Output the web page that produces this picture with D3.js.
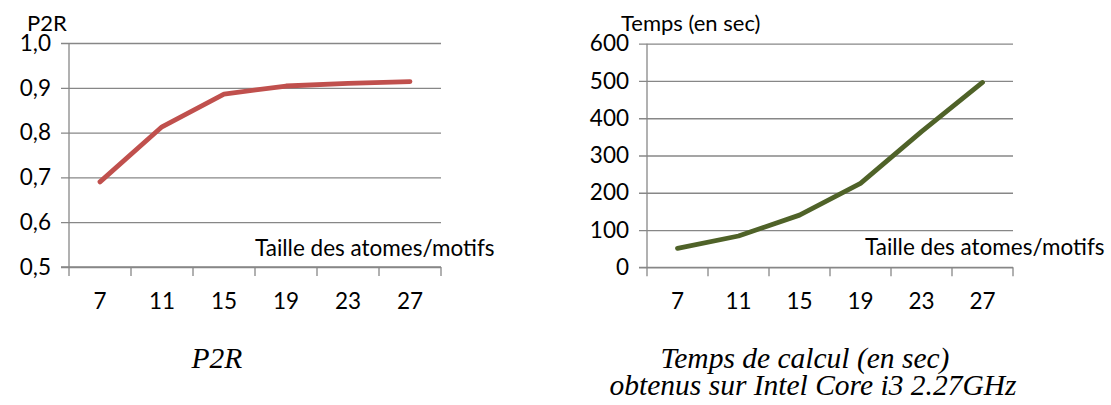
<!DOCTYPE html>
<html>
<head>
<meta charset="utf-8">
<script src="https://cdn.jsdelivr.net/npm/d3@7"></script>
<style>
  body { margin: 0; background: #fff; }
  svg text { font-family: Lato, "Open Sans", sans-serif; fill: #000; }
  .caption { font-family: "Liberation Serif", "Times New Roman", serif; font-style: italic; }
</style>
</head>
<body>
<div id="chart"></div>
<script>
// categories (taille des atomes/motifs)
var categories = ["7", "11", "15", "19", "23", "27"];
// P2R values
var p2rValues = [0.690, 0.813, 0.886, 0.904, 0.910, 0.914];
var p2rTicks = [0.5, 0.6, 0.7, 0.8, 0.9, 1.0];
// computing time in seconds, right chart
var tempsValues = [51, 84, 140, 225, 364, 496];
var tempsTicks = [0, 100, 200, 300, 400, 500, 600];

var svg = d3.select("#chart")
  .append("svg")
  .attr("width", 1111)
  .attr("height", 405);

var gridColor = "#878787";
var fontSize = "22.5px";

function lineChart(opts) {
  var width = opts.right - opts.left,
      height = opts.bottom - opts.top;

  var g = svg.append("g")
    .attr("transform", "translate(" + opts.left + "," + opts.top + ")");

  var x = d3.scaleBand()
    .domain(categories)
    .range([0, width])
    .padding(0);

  var y = d3.scaleLinear()
    .domain(opts.domain)
    .range([height, 0]);

  // gridlines + y labels
  var yAxis = g.append("g")
    .call(d3.axisLeft(y)
      .tickValues(opts.ticks)
      .tickSize(-width)
      .tickPadding(18)
      .tickFormat(opts.format));
  yAxis.select(".domain").remove();
  yAxis.selectAll("line")
    .attr("x1", -8)
    .attr("x2", width)
    .attr("stroke", gridColor)
    .attr("stroke-width", 1.3);
  yAxis.selectAll("text")
    .attr("font-size", fontSize)
    .attr("font-family", "Lato, sans-serif");

  // vertical axis line
  g.append("line")
    .attr("x1", 0).attr("x2", 0)
    .attr("y1", 0).attr("y2", height)
    .attr("stroke", gridColor)
    .attr("stroke-width", 1.3);

  // x axis labels (centered in bands)
  var xAxis = g.append("g")
    .attr("transform", "translate(0," + height + ")")
    .call(d3.axisBottom(x).tickSize(0).tickPadding(26));
  xAxis.select(".domain").remove();
  xAxis.selectAll("text")
    .attr("font-size", fontSize)
    .attr("font-family", "Lato, sans-serif");

  // x ticks at band boundaries
  var edges = categories.map(function(c) { return x(c); });
  edges.push(width);
  g.selectAll(".xtick")
    .data(edges)
    .enter()
    .append("line")
    .attr("x1", function(d) { return d; })
    .attr("x2", function(d) { return d; })
    .attr("y1", height)
    .attr("y2", height + 9)
    .attr("stroke", gridColor)
    .attr("stroke-width", 1.3);

  // x axis line
  g.append("line")
    .attr("x1", -8).attr("x2", width)
    .attr("y1", height).attr("y2", height)
    .attr("stroke", gridColor)
    .attr("stroke-width", 1.3);

  // the series
  var line = d3.line()
    .x(function(d, i) { return x(categories[i]) + x.bandwidth() / 2; })
    .y(function(d) { return y(d); });

  g.append("path")
    .datum(opts.values)
    .attr("fill", "none")
    .attr("stroke", opts.color)
    .attr("stroke-width", 4.8)
    .attr("stroke-linecap", "round")
    .attr("stroke-linejoin", "round")
    .attr("d", line);

  // axis titles
  svg.append("text")
    .attr("x", opts.yTitleX)
    .attr("y", opts.yTitleY)
    .attr("font-size", "22px")
    .text(opts.yTitle);

  svg.append("text")
    .attr("x", opts.xTitleX)
    .attr("y", opts.xTitleY)
    .attr("font-size", fontSize)
    .text("Taille des atomes/motifs");
}

lineChart({
  left: 69, right: 441, top: 43, bottom: 267,
  domain: [0.5, 1.0],
  ticks: p2rTicks,
  format: function(d) { return d3.format(".1f")(d).replace(".", ","); },
  values: p2rValues,
  color: "#C0504D",
  yTitle: "P2R", yTitleX: 27, yTitleY: 31,
  xTitleX: 255, xTitleY: 256
});

lineChart({
  left: 647, right: 1013, top: 43.7, bottom: 267.3,
  domain: [0, 600],
  ticks: tempsTicks,
  format: d3.format("d"),
  values: tempsValues,
  color: "#4F6228",
  yTitle: "Temps (en sec)", yTitleX: 621, yTitleY: 31,
  xTitleX: 865, xTitleY: 255
});

// captions under the charts
svg.append("text")
  .attr("class", "caption")
  .attr("x", 217)
  .attr("y", 368)
  .attr("text-anchor", "middle")
  .attr("font-size", "29.5px")
  .text("P2R");

svg.append("text")
  .attr("class", "caption")
  .attr("x", 805)
  .attr("y", 368)
  .attr("text-anchor", "middle")
  .attr("font-size", "29.5px")
  .text("Temps de calcul (en sec)");

svg.append("text")
  .attr("class", "caption")
  .attr("x", 813)
  .attr("y", 395)
  .attr("text-anchor", "middle")
  .attr("font-size", "29.5px")
  .text("obtenus sur Intel Core i3 2.27GHz");
</script>
</body>
</html>
